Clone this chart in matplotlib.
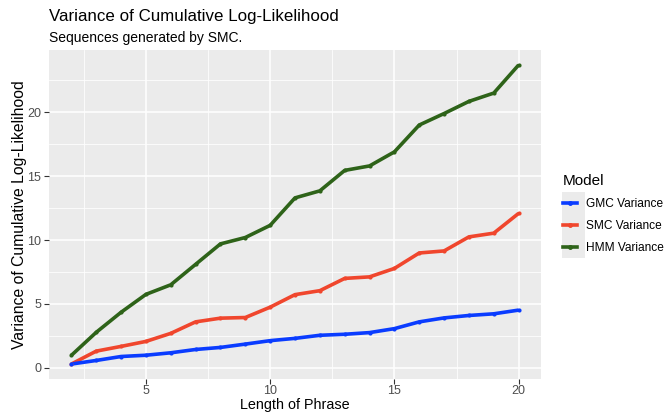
import matplotlib
matplotlib.use("Agg")
import matplotlib.pyplot as plt
from matplotlib.lines import Line2D
from matplotlib.patches import Rectangle

plt.rcParams['font.family'] = ['Liberation Sans', 'DejaVu Sans']

phrase_length = list(range(2, 21))
gmc_variance = [0.30, 0.58, 0.89, 0.99, 1.18, 1.44, 1.60, 1.86, 2.13, 2.31,
                2.55, 2.63, 2.76, 3.07, 3.60, 3.91, 4.10, 4.23, 4.52]
smc_variance = [0.30, 1.31, 1.68, 2.07, 2.70, 3.60, 3.89, 3.94, 4.75, 5.73,
                6.04, 7.00, 7.12, 7.78, 8.99, 9.15, 10.25, 10.54, 12.09]
hmm_variance = [0.98, 2.78, 4.35, 5.75, 6.50, 8.10, 9.70, 10.20, 11.15, 13.30,
                13.85, 15.45, 15.80, 16.90, 19.00, 19.90, 20.85, 21.50, 23.70]

series_names = ["GMC Variance", "SMC Variance", "HMM Variance"]
series_values = [gmc_variance, smc_variance, hmm_variance]
series_colors = ["#0A3CFF", "#F0462D", "#2E6319"]

x_ticks = [5, 10, 15, 20]
y_ticks = [0, 5, 10, 15, 20]

W, H = 665, 413
fig = plt.figure(figsize=(W / 100, H / 100), dpi=100)
px = lambda x: x / W
py = lambda y: 1 - y / H
ax = fig.add_axes([px(49), py(379), (541 - 49) / W, (379 - 50) / H])

ax.set_facecolor("#EBEBEB")
for s in ax.spines.values():
    s.set_visible(False)

# draw in reverse so GMC sits on top
for name, vals, col in list(zip(series_names, series_values, series_colors))[::-1]:
    ax.plot(phrase_length, vals, color=col, lw=2.6, solid_capstyle="butt", zorder=3)
    ax.scatter(phrase_length, vals, color=col, s=9, zorder=4, linewidths=0)

xr = max(phrase_length) - min(phrase_length)
ax.set_xlim(min(phrase_length) - 0.05 * xr, max(phrase_length) + 0.05 * xr)
allv = gmc_variance + smc_variance + hmm_variance
yr = max(allv) - min(allv)
ax.set_ylim(min(allv) - 0.05 * yr, max(allv) + 0.05 * yr)

ax.set_xticks(x_ticks)
ax.set_xticks([2.5, 7.5, 12.5, 17.5], minor=True)
ax.set_yticks(y_ticks)
ax.set_yticks([2.5, 7.5, 12.5, 17.5, 22.5], minor=True)
ax.grid(which="major", color="white", lw=1.1, zorder=0)
ax.grid(which="minor", color="white", lw=0.55, zorder=0)
ax.set_axisbelow(True)
ax.tick_params(which="major", length=3.5, color="#333333", labelsize=9,
               labelcolor="#4D4D4D", pad=2)
ax.tick_params(axis="x", which="major", pad=1)
ax.tick_params(which="minor", length=0)

ax.set_xlabel("Length of Phrase", fontsize=10.4, color="black", va="center")
ax.xaxis.set_label_coords(0.5, (379 - 405) / 329)
ax.set_ylabel("Variance of Cumulative Log-Likelihood", fontsize=11.3,
              color="black", va="center")
ax.yaxis.set_label_coords((20 - 49) / 492, 0.5)

fig.text(px(49), py(16), "Variance of Cumulative Log-Likelihood",
         fontsize=12.2, va="center", ha="left")
fig.text(px(49), py(38), "Sequences generated by SMC.",
         fontsize=10, va="center", ha="left")

# grey legend key background
fig.add_artist(Rectangle((px(562), py(258)), (585 - 562) / W, (258 - 192) / H,
                         transform=fig.transFigure, facecolor="#EBEBEB",
                         edgecolor="none", zorder=0))

handles = [Line2D([], [], color=c, lw=2.6, marker="o", markersize=2.5)
           for c in series_colors]
leg = fig.legend(handles, series_names, title="Model",
                 loc="upper left", bbox_to_anchor=(px(552), py(163)),
                 frameon=False, fontsize=8.6, title_fontsize=11,
                 handlelength=1.2, handletextpad=0.75, labelspacing=0.85,
                 alignment="left")

fig.savefig("out.png", dpi=100)
